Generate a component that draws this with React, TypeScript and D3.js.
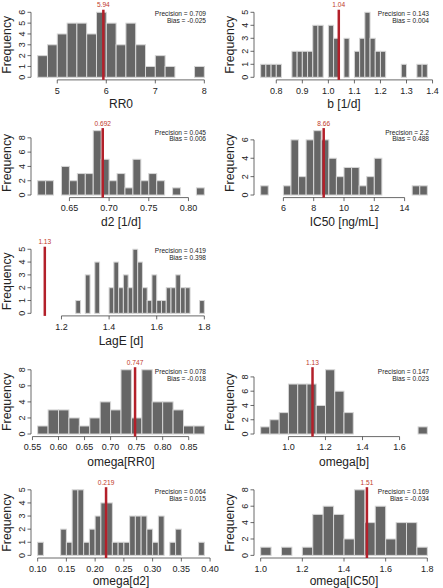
import React from "react";
import * as d3 from "d3";

// ---------- data (histogram counts) ----------
const rr0Counts = [2, 3, 4, 5, 5, 4, 6, 5, 3, 5, 3, 1, 2, 1, 0, 0, 1];
const rr0Breaks = [4.6, 0.2];
const rr0Ticks = [5, 6, 7, 8];

const bCounts = [1, 1, 1, 1, 0, 0, 2, 2, 2, 2, 4, 4, 0, 4, 3, 0, 3, 0, 2, 3, 5, 3, 2, 2, 0, 0, 0, 1, 0, 0, 1, 1];
const bBreaks = [0.74, 0.02];
const bTicks = [0.8, 0.9, 1.0, 1.1, 1.2, 1.3, 1.4];

const d2Counts = [2, 2, 0, 4, 2, 3, 3, 9, 5, 2, 3, 1, 5, 2, 3, 2, 0, 1, 0, 0, 1];
const d2Breaks = [0.61, 0.01];
const d2Ticks = [0.65, 0.7, 0.75, 0.8];

const ic50Counts = [1, 0, 0, 1, 6, 2, 6, 7, 6, 4, 2, 3, 3, 1, 2, 4, 0, 0, 0, 0, 1, 1];
const ic50Breaks = [4.5, 0.5];
const ic50Ticks = [6, 8, 10, 12, 14];

const lagCounts = [1, 0, 3, 0, 4, 0, 0, 2, 4, 2, 3, 2, 5, 4, 2, 1, 3, 1, 1, 2, 2, 3, 2, 2, 0, 0, 1];
const lagBreaks = [1.26, 0.02];
const lagTicks = [1.2, 1.4, 1.6, 1.8];
const lagXlim = [1.1, 1.8];

const omRR0Counts = [1, 3, 3, 2, 1, 2, 4, 3, 8, 2, 8, 4, 4, 3, 1, 1];
const omRR0Breaks = [0.56, 0.02];
const omRR0Ticks = [0.55, 0.6, 0.65, 0.7, 0.75, 0.8, 0.85];

const omBCounts = [1, 2, 3, 7, 7, 7, 4, 9, 6, 3, 0, 0, 0, 0, 0, 0, 0, 1];
const omBBreaks = [0.85, 0.05];
const omBTicks = [1.0, 1.2, 1.4, 1.6];

const omD2Counts = [1, 0, 0, 0, 2, 1, 5, 5, 1, 2, 3, 4, 4, 1, 1, 1, 3, 3, 3, 2, 1, 3, 0, 1, 2, 0, 0, 0, 1];
const omD2Breaks = [0.1, 0.01];
const omD2Ticks = [0.1, 0.15, 0.2, 0.25, 0.3, 0.35, 0.4];

const omIC50Counts = [1, 0, 1, 0, 1, 5, 6, 5, 2, 8, 4, 6, 2, 4, 4, 1];
const omIC50Breaks = [1.0, 0.05];
const omIC50Ticks = [1.0, 1.2, 1.4, 1.6, 1.8];

const titles = ["RR0", "b [1/d]", "d2 [1/d]", "IC50 [ng/mL]", "LagE [d]", "omega[RR0]", "omega[b]", "omega[d2]", "omega[IC50]"];
const trueValues = [5.94, 1.04, 0.692, 8.66, 1.13, 0.747, 1.13, 0.219, 1.51];
const trueLabels = ["5.94", "1.04", "0.692", "8.66", "1.13", "0.747", "1.13", "0.219", "1.51"];
const precisions = ["0.709", "0.143", "0.045", "2.2", "0.419", "0.078", "0.147", "0.064", "0.169"];
const biases = ["-0.025", "0.004", "0.006", "0.488", "0.398", "-0.018", "0.023", "0.015", "-0.034"];

// ---------- layout ----------
const W = 443;
const H = 588;
const colLeft = [31, 254];
const colRight = [211, 434];
const rowTop = [9.7, 128.1, 246.7, 367.2, 487.2];
const rowBottom = [79.9, 197.6, 315.9, 436.6, 558.0];
const titleBaseline = [108.4, 226.3, 344.5, 466.0, 584.6];
const FONT = "'Liberation Sans', Arial, Helvetica, sans-serif";

type PanelDef = {
  counts: number[];
  breaks: number[];
  xTicks: number[];
  xlim?: number[];
  row: number;
  col: number;
  idx: number;
};

const panels: PanelDef[] = [
  { counts: rr0Counts, breaks: rr0Breaks, xTicks: rr0Ticks, row: 0, col: 0, idx: 0 },
  { counts: bCounts, breaks: bBreaks, xTicks: bTicks, row: 0, col: 1, idx: 1 },
  { counts: d2Counts, breaks: d2Breaks, xTicks: d2Ticks, row: 1, col: 0, idx: 2 },
  { counts: ic50Counts, breaks: ic50Breaks, xTicks: ic50Ticks, row: 1, col: 1, idx: 3 },
  { counts: lagCounts, breaks: lagBreaks, xTicks: lagTicks, xlim: lagXlim, row: 2, col: 0, idx: 4 },
  { counts: omRR0Counts, breaks: omRR0Breaks, xTicks: omRR0Ticks, row: 3, col: 0, idx: 5 },
  { counts: omBCounts, breaks: omBBreaks, xTicks: omBTicks, row: 3, col: 1, idx: 6 },
  { counts: omD2Counts, breaks: omD2Breaks, xTicks: omD2Ticks, row: 4, col: 0, idx: 7 },
  { counts: omIC50Counts, breaks: omIC50Breaks, xTicks: omIC50Ticks, row: 4, col: 1, idx: 8 },
];

function fmtTick(v: number, ticks: number[]) {
  const step = ticks.length > 1 ? Math.abs(ticks[1] - ticks[0]) : 1;
  let dec = 0;
  if (step < 1) dec = step < 0.1 - 1e-9 ? 2 : 1;
  if (Math.abs(step - 0.05) < 1e-9) dec = 2;
  return v.toFixed(dec);
}

function Panel({ p }: { p: PanelDef }) {
  const L = colLeft[p.col];
  const R = colRight[p.col];
  const T = rowTop[p.row];
  const B = rowBottom[p.row];
  const [start, width] = p.breaks;
  const n = p.counts.length;
  const edges = d3.range(n + 1).map((i) => +(start + i * width).toFixed(6));
  const lo = p.xlim ? p.xlim[0] : edges[0];
  const hi = p.xlim ? p.xlim[1] : edges[n];
  const pad = (hi - lo) * 0.04;
  const x = d3.scaleLinear().domain([lo - pad, hi + pad]).range([L, R]);
  const ymax = d3.max(p.counts) as number;
  const y = d3.scaleLinear().domain([-0.04 * ymax, ymax * 1.04]).range([B, T]);
  const yTicks = ymax > 6 ? d3.range(0, ymax + 1e-9, 2) : d3.range(0, ymax + 1e-9, 1);
  const i = p.idx;
  const tv = trueValues[i];
  const tickLen = 3.5;

  return (
    <g>
      {p.counts.map((c, k) =>
        c > 0 ? (
          <rect
            key={k}
            x={x(edges[k])}
            y={y(c)}
            width={x(edges[k + 1]) - x(edges[k])}
            height={y(0) - y(c)}
            fill="#666666"
            stroke="#d6d6d6"
            strokeWidth={1}
          />
        ) : null
      )}
      {/* x axis */}
      <line x1={x(p.xTicks[0])} x2={x(p.xTicks[p.xTicks.length - 1])} y1={B} y2={B} stroke="#444" strokeWidth={0.8} />
      {p.xTicks.map((t) => (
        <g key={t}>
          <line x1={x(t)} x2={x(t)} y1={B} y2={B + tickLen} stroke="#444" strokeWidth={0.8} />
          <text x={x(t)} y={B + 13.8} textAnchor="middle" fontSize={9} fill="#222" fontFamily={FONT}>
            {fmtTick(t, p.xTicks)}
          </text>
        </g>
      ))}
      {/* y axis */}
      <line x1={L} x2={L} y1={y(0)} y2={y(yTicks[yTicks.length - 1])} stroke="#444" strokeWidth={0.8} />
      {yTicks.map((t) => (
        <g key={t}>
          <line x1={L - tickLen} x2={L} y1={y(t)} y2={y(t)} stroke="#444" strokeWidth={0.8} />
          <text
            transform={`translate(${L - 6.3},${y(t)}) rotate(-90)`}
            textAnchor="middle"
            fontSize={9}
            fill="#222"
            fontFamily={FONT}
          >
            {t}
          </text>
        </g>
      ))}
      {/* labels */}
      <text x={(L + R) / 2} y={titleBaseline[p.row]} textAnchor="middle" fontSize={12} fill="#222" fontFamily={FONT}>
        {titles[i]}
      </text>
      <text
        transform={`translate(${L - 20},${(T + B) / 2}) rotate(-90)`}
        textAnchor="middle"
        fontSize={12.3}
        fill="#222"
        fontFamily={FONT}
      >
        Frequency
      </text>
      {/* true value */}
      <line x1={x(tv)} x2={x(tv)} y1={T} y2={B} stroke="#b3202a" strokeWidth={2.5} />
      <text x={x(tv)} y={T - 2.6} textAnchor="middle" fontSize={6.6} fill="#c0392b" fontFamily={FONT}>
        {trueLabels[i]}
      </text>
      <text x={R - 5} y={T + 6.6} textAnchor="end" fontSize={6.6} fill="#222" fontFamily={FONT}>
        {`Precision = ${precisions[i]}`}
      </text>
      <text x={R - 5} y={T + 13.3} textAnchor="end" fontSize={6.6} fill="#222" fontFamily={FONT}>
        {`Bias = ${biases[i]}`}
      </text>
    </g>
  );
}

export default function App() {
  return (
    <svg
      width={W}
      height={H}
      viewBox={`0 0 ${W} ${H}`}
      style={{ position: "absolute", left: 0, top: 0, background: "#fff" }}
    >
      <rect x={0} y={0} width={W} height={H} fill="#fff" />
      {panels.map((p) => (
        <Panel key={p.idx} p={p} />
      ))}
    </svg>
  );
}
